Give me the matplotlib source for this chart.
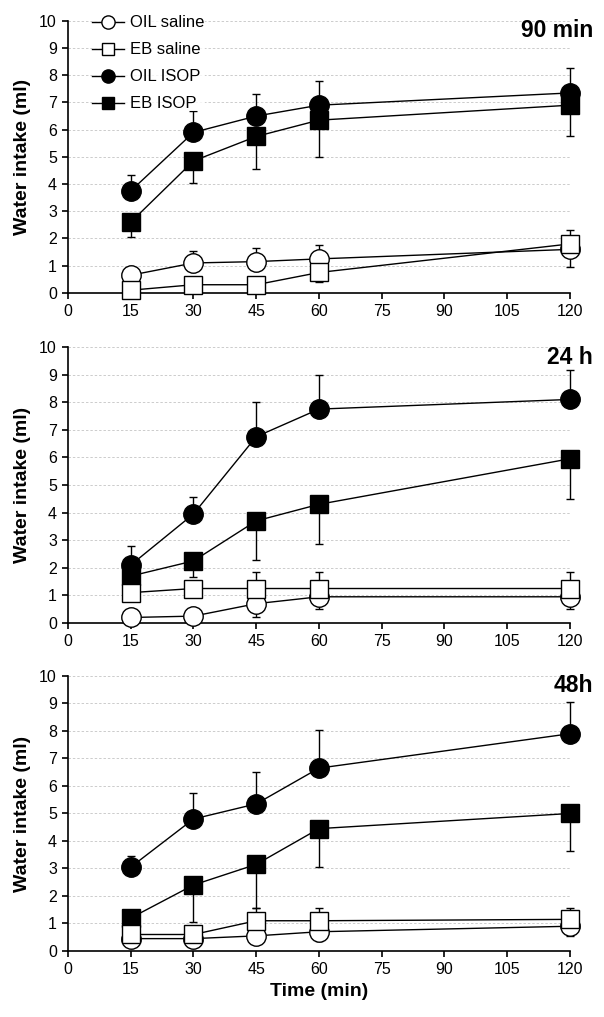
import numpy as np
import matplotlib
matplotlib.use("Agg")
import matplotlib.pyplot as plt

plt.rcParams['font.family'] = ['Liberation Sans', 'DejaVu Sans']

# time points (min)
times = [15, 30, 45, 60, 120]
series_names = ['OIL saline', 'EB saline', 'OIL ISOP', 'EB ISOP']
panel_titles = ['90 min', '24 h', '48h']

# --- 90 min ---
p1_oil_sal = [0.65, 1.1, 1.15, 1.25, 1.6]
p1_oil_sal_lo = [0, 0, 0, 0, 0.65]
p1_oil_sal_hi = [0.25, 0.45, 0.5, 0.5, 0]
p1_eb_sal = [0.1, 0.3, 0.3, 0.75, 1.8]
p1_eb_sal_lo = [0, 0, 0, 0.35, 0]
p1_eb_sal_hi = [0.2, 0.25, 0.25, 0, 0.5]
p1_oil_isop = [3.75, 5.9, 6.5, 6.9, 7.35]
p1_oil_isop_hi = [0.6, 0.8, 0.8, 0.9, 0.9]
p1_eb_isop = [2.6, 4.85, 5.75, 6.35, 6.9]
p1_eb_isop_lo = [0.55, 0.8, 1.2, 1.35, 1.15]

# --- 24 h ---
p2_oil_sal = [0.2, 0.25, 0.7, 0.95, 0.95]
p2_oil_sal_lo = [0, 0, 0.5, 0.45, 0.45]
p2_oil_sal_hi = [0, 0, 0, 0, 0]
p2_eb_sal = [1.1, 1.25, 1.25, 1.25, 1.25]
p2_eb_sal_lo = [0, 0, 0, 0, 0]
p2_eb_sal_hi = [0, 0, 0.6, 0.6, 0.6]
p2_oil_isop = [2.1, 3.95, 6.75, 7.75, 8.1]
p2_oil_isop_hi = [0.7, 0.6, 1.25, 1.25, 1.05]
p2_eb_isop = [1.7, 2.25, 3.7, 4.3, 5.95]
p2_eb_isop_lo = [0, 0.6, 1.4, 1.45, 1.45]

# --- 48 h ---
p3_oil_sal = [0.45, 0.45, 0.55, 0.7, 0.9]
p3_oil_sal_lo = [0, 0, 0.3, 0.35, 0.35]
p3_oil_sal_hi = [0, 0, 0, 0, 0]
p3_eb_sal = [0.6, 0.6, 1.1, 1.1, 1.15]
p3_eb_sal_lo = [0, 0, 0, 0, 0]
p3_eb_sal_hi = [0, 0, 0.45, 0.45, 0.4]
p3_oil_isop = [3.05, 4.8, 5.35, 6.65, 7.9]
p3_oil_isop_hi = [0.4, 0.95, 1.15, 1.4, 1.15]
p3_eb_isop = [1.2, 2.4, 3.15, 4.45, 5.0]
p3_eb_isop_lo = [0, 1.35, 1.6, 1.4, 1.35]

zeros = [0, 0, 0, 0, 0]
panels = [
    [(p1_oil_sal, p1_oil_sal_lo, p1_oil_sal_hi), (p1_eb_sal, p1_eb_sal_lo, p1_eb_sal_hi),
     (p1_oil_isop, zeros, p1_oil_isop_hi), (p1_eb_isop, p1_eb_isop_lo, zeros)],
    [(p2_oil_sal, p2_oil_sal_lo, p2_oil_sal_hi), (p2_eb_sal, p2_eb_sal_lo, p2_eb_sal_hi),
     (p2_oil_isop, zeros, p2_oil_isop_hi), (p2_eb_isop, p2_eb_isop_lo, zeros)],
    [(p3_oil_sal, p3_oil_sal_lo, p3_oil_sal_hi), (p3_eb_sal, p3_eb_sal_lo, p3_eb_sal_hi),
     (p3_oil_isop, zeros, p3_oil_isop_hi), (p3_eb_isop, p3_eb_isop_lo, zeros)],
]

# marker style per series: (marker, facecolor, size, zorder)
styles = [('o', 'white', 14, 5), ('s', 'white', 13, 6), ('o', 'black', 14, 3), ('s', 'black', 13, 4)]

fig = plt.figure(figsize=(6.04, 10.17), dpi=100)
axes_pos = [[0.1126, 0.712, 0.831, 0.2675],
            [0.1126, 0.3874, 0.831, 0.2714],
            [0.1126, 0.0649, 0.831, 0.2704]]

for k, pos in enumerate(axes_pos):
    ax = fig.add_axes(pos)
    handles = []
    for (vals, lo, hi), (mk, fc, ms, z) in zip(panels[k], styles):
        cont = ax.errorbar(times, vals, yerr=[lo, hi], fmt='-', color='black', lw=1.0,
                           marker=mk, markersize=ms, markerfacecolor=fc,
                           markeredgecolor='black', markeredgewidth=1.0,
                           ecolor='black', elinewidth=1.0, capsize=3, capthick=1.0,
                           zorder=z)
        cont[0].set_clip_on(False)
        for c in cont[1]:
            c.set_clip_on(False)
            c.set_zorder(z - 0.5)
        for c in cont[2]:
            c.set_clip_on(False)
            c.set_zorder(z - 0.5)
        handles.append(cont[0])

    ax.set_xlim(0, 120)
    ax.set_ylim(0, 10)
    ax.set_xticks(range(0, 121, 15))
    ax.set_yticks(range(0, 11))
    for y in range(1, 11):
        ax.axhline(y, color='#cccccc', lw=0.7, ls=(0, (2.5, 2)), zorder=0)
    ax.spines['top'].set_visible(False)
    ax.spines['right'].set_visible(False)
    ax.spines['left'].set_linewidth(1.2)
    ax.spines['bottom'].set_linewidth(1.2)
    ax.tick_params(direction='out', length=4, width=1.2, labelsize=11.5, pad=4)
    ax.set_ylabel('Water intake (ml)', fontsize=14, fontweight='bold', labelpad=6)
    ax.text(1.046, 0.94, panel_titles[k], transform=ax.transAxes, ha='right',
            va='baseline', fontsize=16.5, fontweight='bold')

    if k == 0:
        leg = ax.legend(handles, series_names, loc='upper left', bbox_to_anchor=(0.048, 1.02),
                        frameon=True, fontsize=12, markerscale=0.68, handlelength=1.9,
                        handletextpad=0.4, labelspacing=0.72, borderpad=0, borderaxespad=0)
        leg.get_frame().set_facecolor('white')
        leg.get_frame().set_edgecolor('white')
        leg.get_frame().set_linewidth(0)
        leg.set_zorder(10)
    if k == 2:
        ax.set_xlabel('Time (min)', fontsize=14, fontweight='bold', labelpad=4)

fig.savefig('out.png', dpi=100)
